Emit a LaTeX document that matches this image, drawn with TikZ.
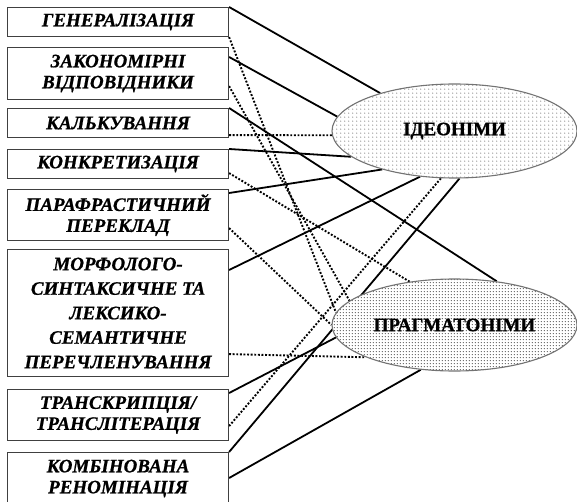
\documentclass[tikz,border=0pt]{standalone}
\usepackage{fontspec}
\setmainfont{Liberation Serif}[BoldFont={* Bold},BoldItalicFont={* Bold Italic},ItalicFont={* Italic},
  BoldFeatures={FakeBold=0.8},BoldItalicFeatures={FakeBold=0.8}]
\usetikzlibrary{shapes.geometric,patterns,backgrounds,calc}
\pgfdeclarepatternformonly{sparsedots}{\pgfpointorigin}{\pgfqpoint{4.2pt}{4.2pt}}{\pgfqpoint{4.2pt}{4.2pt}}{\pgfpathcircle{\pgfqpoint{2.1pt}{2.1pt}}{0.6pt}\pgfusepath{fill}}
\pgfdeclarepatternformonly{densedots}{\pgfpointorigin}{\pgfqpoint{2.8pt}{2.8pt}}{\pgfqpoint{2.8pt}{2.8pt}}{\pgfpathcircle{\pgfqpoint{1.4pt}{1.4pt}}{0.6pt}\pgfusepath{fill}}
\begin{document}
\begin{tikzpicture}[x=1pt,y=-1pt,
  box/.style={draw=black!75, line width=1.1pt, fill=white, anchor=north west,
    minimum width=221pt, inner sep=0pt, align=center,
    font=\fontsize{19}{21}\selectfont\bfseries\itshape},
  oval/.style={ellipse, draw=black!55, line width=1.1pt, minimum width=245pt,
    inner sep=0pt, preaction={fill=white},
    font=\fontsize{19}{21}\selectfont\bfseries},
  solidlink/.style={line width=1.8pt},
  dotlink/.style={line width=1.9pt, dash pattern=on 1.9pt off 1.7pt}]
\useasboundingbox (0,0) rectangle (577,502);
\clip (0,0) rectangle (577,502);

\node[box, minimum height=29pt] (b1) at (7,7) {ГЕНЕРАЛІЗАЦІЯ};
\node[box, minimum height=52pt] (b2) at (7,47) {ЗАКОНОМІРНІ\\ВІДПОВІДНИКИ};
\node[box, minimum height=29pt] (b3) at (7,108) {КАЛЬКУВАННЯ};
\node[box, minimum height=29pt] (b4) at (7,149) {КОНКРЕТИЗАЦІЯ};
\node[box, minimum height=51pt] (b5) at (7,189) {ПАРАФРАСТИЧНИЙ\\ПЕРЕКЛАД};
\node[box, minimum height=127pt, font=\fontsize{19}{24.5}\selectfont\bfseries\itshape] (b6) at (7,249)
  {МОРФОЛОГО-\\СИНТАКСИЧНЕ ТА\\ЛЕКСИКО-\\СЕМАНТИЧНЕ\\ПЕРЕЧЛЕНУВАННЯ};
\node[box, minimum height=51pt] (b7) at (7,389) {ТРАНСКРИПЦІЯ/\\ТРАНСЛІТЕРАЦІЯ};
\node[box, minimum height=52pt] (b8) at (7,452) {КОМБІНОВАНА\\РЕНОМІНАЦІЯ};

\node[oval, minimum height=94pt, pattern=sparsedots, pattern color=black!75] (ide) at (454.5,131) {ІДЕОНІМИ};
\node[oval, minimum height=92pt, pattern=densedots, pattern color=black!75] (prag) at (454.5,325) {ПРАГМАТОНІМИ};

\begin{scope}[on background layer]
\draw[solidlink] (b1.north east) -- (ide.153);
\draw[dotlink] (b1.south east) -- (prag.174.3);
\draw[solidlink] ($(b2.north east)+(0,10)$) -- (ide.173.2);
\draw[dotlink] ($(b2.south east)+(0,-14)$) -- (prag.167.8);
\draw[solidlink] (b3.north east) -- (prag.46.7);
\draw[dotlink] ($(b3.south east)+(0,-3)$) -- (ide.182.8);
\draw[solidlink] (b4.north east) -- (ide.194);
\draw[dotlink] ($(b4.south east)+(0,-6)$) -- (prag.136);
\draw[solidlink] ($(b5.north east)+(0,4)$) -- (ide.208.3);
\draw[dotlink] ($(b5.south east)+(0,-13)$) -- (prag.180);
\draw[solidlink] ($(b6.north east)+(0,21)$) -- (ide.233.1);
\draw[dotlink] ($(b6.south east)+(0,-23)$) -- (prag.200.6);
\draw[solidlink] ($(b7.north east)+(0,4)$) -- (prag.186.3);
\draw[dotlink] ($(b7.south east)+(0,-15)$) -- (ide.254);
\draw[solidlink] (b8.north east) -- (ide.276.7);
\draw[solidlink] ($(b8.north east)+(0,26)$) -- (prag.233.6);
\end{scope}
\end{tikzpicture}
\end{document}
